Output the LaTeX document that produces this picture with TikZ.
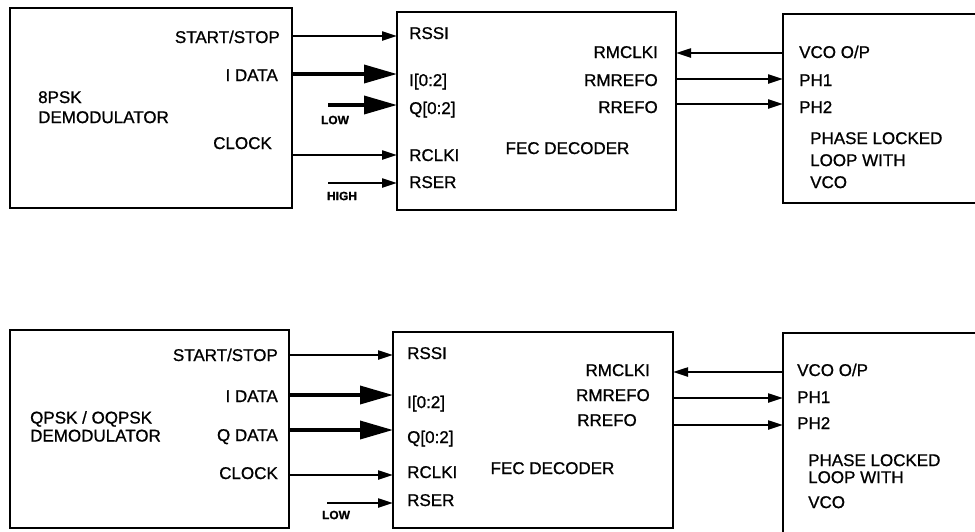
\documentclass[tikz,border=0pt]{standalone}
\usepackage{fontspec}
\setmainfont{Liberation Sans}[FakeBold=0.9]
\usetikzlibrary{arrows.meta}
\tikzset{
  box/.style={draw, line width=2.6pt, inner sep=0pt, outer sep=0pt, anchor=north west},
  lbl/.style={inner sep=0pt, font=\fontsize{17}{20}\selectfont},
  tag/.style={inner sep=0pt, font=\bfseries\fontsize{12}{14}\selectfont},
  sig/.style={line width=2.2pt, -{Triangle[length=15pt,width=9pt]}},
  bus/.style={line width=3.6pt, -{Triangle[length=33pt,width=18pt]}},
}
\begin{document}
\begin{tikzpicture}[x=1pt,y=-1pt]
\useasboundingbox (0,0) rectangle (975,531);
\clip (0,0) rectangle (975,531);
\fill[white] (0,0) rectangle (975,531);

% ---------------- top diagram ----------------
\node[box, minimum width=282pt, minimum height=200pt] (dem1) at (10,8) {};
\node[box, minimum width=279pt, minimum height=198pt] (fec1) at (397,12) {};
\node[box, minimum width=220pt, minimum height=189pt] (pll1) at (783,14) {};

\node[lbl, anchor=base east] (d1ss) at (280,43) {START/STOP};
\node[lbl, anchor=base east] (d1id) at (278,81) {I DATA};
\node[lbl, anchor=base east] (d1ck) at (272,149) {CLOCK};
\node[lbl, anchor=north west, align=left] (d1name) at (38,91) {8PSK\\DEMODULATOR};

\node[lbl, anchor=base west] (f1rssi) at (409,39) {RSSI};
\node[lbl, anchor=base west] (f1i) at (409,86) {I[0:2]};
\node[lbl, anchor=base west] (f1q) at (409,114) {Q[0:2]};
\node[lbl, anchor=base west] (f1rclk) at (409,161) {RCLKI};
\node[lbl, anchor=base west] (f1rser) at (409,188) {RSER};
\node[lbl, anchor=base east] (f1rmclk) at (658,58) {RMCLKI};
\node[lbl, anchor=base east] (f1rmref) at (658,86) {RMREFO};
\node[lbl, anchor=base east] (f1rref) at (658,113) {RREFO};
\node[lbl, anchor=base] (f1name) at (567.5,154) {FEC DECODER};

\node[lbl, anchor=base west] (p1vco) at (799,58) {VCO O/P};
\node[lbl, anchor=base west] (p1ph1) at (799,86) {PH1};
\node[lbl, anchor=base west] (p1ph2) at (799,113) {PH2};
\node[lbl, anchor=north west, align=left, font=\fontsize{17}{22}\selectfont] (p1name) at (810,132) {PHASE LOCKED\\LOOP WITH\\VCO};

\coordinate (low1) at (328,105);
\coordinate (high1) at (328,183);
\node[tag] (low1t) at (335,120) {LOW};
\node[tag] (high1t) at (342,196) {HIGH};

\draw[sig] (dem1.east |- 0,36) -- (fec1.west |- 0,36);
\draw[bus] (dem1.east |- 0,74) -- (fec1.west |- 0,74);
\draw[bus] (low1) -- (fec1.west |- low1);
\draw[sig] (dem1.east |- 0,155) -- (fec1.west |- 0,155);
\draw[sig] (high1) -- (fec1.west |- high1);

\draw[sig] (pll1.west |- 0,53) -- (fec1.east |- 0,53);
\draw[sig] (fec1.east |- 0,79) -- (pll1.west |- 0,79);
\draw[sig] (fec1.east |- 0,104) -- (pll1.west |- 0,104);

% ---------------- bottom diagram ----------------
\node[box, minimum width=279pt, minimum height=198pt] (dem2) at (10,330) {};
\node[box, minimum width=280pt, minimum height=196pt] (fec2) at (393,332) {};
\node[box, minimum width=220pt, minimum height=220pt] (pll2) at (783,333) {};

\node[lbl, anchor=base east] (d2ss) at (278,361) {START/STOP};
\node[lbl, anchor=base east] (d2id) at (278,402) {I DATA};
\node[lbl, anchor=base east] (d2qd) at (278,441) {Q DATA};
\node[lbl, anchor=base east] (d2ck) at (278,479) {CLOCK};
\node[lbl, anchor=north west, align=left, font=\fontsize{17}{18}\selectfont] (d2name) at (30,411) {QPSK / OQPSK\\DEMODULATOR};

\node[lbl, anchor=base west] (f2rssi) at (407,359) {RSSI};
\node[lbl, anchor=base west] (f2i) at (407,408) {I[0:2]};
\node[lbl, anchor=base west] (f2q) at (407,443) {Q[0:2]};
\node[lbl, anchor=base west] (f2rclk) at (407,478) {RCLKI};
\node[lbl, anchor=base west] (f2rser) at (407,506) {RSER};
\node[lbl, anchor=base east] (f2rmclk) at (650,376) {RMCLKI};
\node[lbl, anchor=base east] (f2rmref) at (650,401) {RMREFO};
\node[lbl, anchor=base east] (f2rref) at (637,426) {RREFO};
\node[lbl, anchor=base] (f2name) at (552.5,474) {FEC DECODER};

\node[lbl, anchor=base west] (p2vco) at (797,376) {VCO O/P};
\node[lbl, anchor=base west] (p2ph1) at (797,403) {PH1};
\node[lbl, anchor=base west] (p2ph2) at (797,429) {PH2};
\node[lbl, anchor=north west, align=left] (p2name) at (808,454) {PHASE LOCKED\\[-3pt]LOOP WITH\\[5pt]VCO};

\coordinate (low2) at (327,503);
\node[tag] (low2t) at (336,515) {LOW};

\draw[sig] (dem2.east |- 0,355) -- (fec2.west |- 0,355);
\draw[bus] (dem2.east |- 0,395) -- (fec2.west |- 0,395);
\draw[bus] (dem2.east |- 0,430) -- (fec2.west |- 0,430);
\draw[sig] (dem2.east |- 0,475) -- (fec2.west |- 0,475);
\draw[sig] (low2) -- (fec2.west |- low2);

\draw[sig] (pll2.west |- 0,372) -- (fec2.east |- 0,372);
\draw[sig] (fec2.east |- 0,398) -- (pll2.west |- 0,398);
\draw[sig] (fec2.east |- 0,425) -- (pll2.west |- 0,425);
\end{tikzpicture}
\end{document}
